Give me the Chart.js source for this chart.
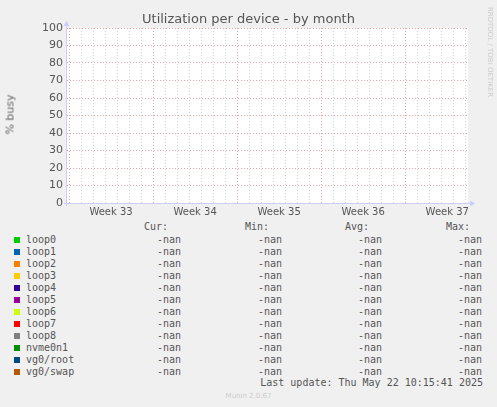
<!DOCTYPE html>
<html>
<head>
<meta charset="utf-8">
<script src="https://cdn.jsdelivr.net/npm/chart.js@4"></script>
<style>
  body { margin: 0; background: #f0f0f0; width: 497px; height: 407px; position: relative; overflow: hidden; font-family: "DejaVu Sans", sans-serif; color: #555; }
  #wrap { position: absolute; left: 0; top: 0; width: 497px; height: 220px; }
  .abs { position: absolute; white-space: pre; }
  .mono { font-family: "DejaVu Sans Mono", monospace; font-size: 10px; line-height: 12px; }
  .sw { position: absolute; width: 6px; height: 6px; }
</style>
</head>
<body>
<div id="wrap"><canvas id="chart"></canvas></div>
<div class="abs" style="left:0;width:497px;top:11px;text-align:center;font-size:13px;">Utilization per device - by month</div>
<div class="abs" style="left:-15px;top:108px;font-size:11px;transform:rotate(-90deg);width:50px;text-align:center;color:#666;">% busy</div>
<div class="abs" style="left:440px;top:48px;font-size:7px;color:#ccc;transform:rotate(90deg);width:100px;text-align:center;">RRDTOOL / TOBI OETIKER</div>
<div id="legend"></div>
<div class="abs" style="left:0;width:497px;top:392px;text-align:center;font-size:7px;color:#ccc;">Munin 2.0.67</div>
<script>
const devices = ['loop0', 'loop1', 'loop2', 'loop3', 'loop4', 'loop5', 'loop6', 'loop7', 'loop8', 'nvme0n1', 'vg0/root', 'vg0/swap'];
const deviceColors = ['#00cc00', '#0066b3', '#ff8000', '#ffcc00', '#330099', '#990099', '#ccff00', '#ff0000', '#808080', '#008f00', '#00487d', '#b35a00'];
const curValues = ['-nan', '-nan', '-nan', '-nan', '-nan', '-nan', '-nan', '-nan', '-nan', '-nan', '-nan', '-nan'];
const minValues = ['-nan', '-nan', '-nan', '-nan', '-nan', '-nan', '-nan', '-nan', '-nan', '-nan', '-nan', '-nan'];
const avgValues = ['-nan', '-nan', '-nan', '-nan', '-nan', '-nan', '-nan', '-nan', '-nan', '-nan', '-nan', '-nan'];
const maxValues = ['-nan', '-nan', '-nan', '-nan', '-nan', '-nan', '-nan', '-nan', '-nan', '-nan', '-nan', '-nan'];
const weekLabels = ['Week 33', 'Week 34', 'Week 35', 'Week 36', 'Week 37'];
const yMax = 100;
const lastUpdate = 'Last update: Thu May 22 10:15:41 2025';

// days across the plot, first week boundary offset
const spanDays = 33.4;
const firstWeek = 0.17;

const legend = document.getElementById('legend');
function put(text, right, y) {
    const d = document.createElement('div');
    d.className = 'abs mono';
    d.style.right = (497 - right) + 'px';
    d.style.top = y + 'px';
    d.textContent = text;
    legend.appendChild(d);
}
put('Cur:', 168, 221); put('Min:', 269, 221); put('Avg:', 369, 221); put('Max:', 470, 221);
devices.forEach((name, i) => {
    const y = 234 + i * 12;
    const sw = document.createElement('div');
    sw.className = 'sw';
    sw.style.left = '14px';
    sw.style.top = (y + 3) + 'px';
    sw.style.background = deviceColors[i];
    legend.appendChild(sw);
    const n = document.createElement('div');
    n.className = 'abs mono';
    n.style.left = '26px';
    n.style.top = y + 'px';
    n.textContent = name;
    legend.appendChild(n);
    put(curValues[i], 181, y); put(minValues[i], 282, y); put(avgValues[i], 382, y); put(maxValues[i], 482, y);
});
put(lastUpdate, 483, 377);

const whiteArea = {
    id: 'whiteArea',
    beforeDraw(chart) {
        const { ctx, chartArea: a } = chart;
        ctx.save();
        ctx.fillStyle = '#ffffff';
        ctx.fillRect(a.left, a.top, a.right - a.left, a.bottom - a.top);
        ctx.restore();
    },
    afterDraw(chart) {
        const { ctx, chartArea: a } = chart;
        ctx.save();
        ctx.strokeStyle = '#ccccff';
        ctx.fillStyle = '#ccccff';
        ctx.lineWidth = 1;
        ctx.beginPath();
        ctx.moveTo(a.left - 0.5, a.bottom + 3); ctx.lineTo(a.left - 0.5, a.top - 3);
        ctx.moveTo(a.left - 3, a.bottom + 0.5); ctx.lineTo(a.right + 3, a.bottom + 0.5);
        ctx.stroke();
        ctx.beginPath();
        ctx.moveTo(a.left - 3.5, a.top - 2); ctx.lineTo(a.left + 2.5, a.top - 2); ctx.lineTo(a.left - 0.5, a.top - 7); ctx.fill();
        ctx.beginPath();
        ctx.moveTo(a.right + 2, a.bottom - 2.5); ctx.lineTo(a.right + 2, a.bottom + 3.5); ctx.lineTo(a.right + 7, a.bottom + 0.5); ctx.fill();
        ctx.restore();
    }
};

new Chart(document.getElementById('chart'), {
    type: 'line',
    data: {
        datasets: devices.map((name, i) => ({
            label: name,
            data: [],
            borderColor: deviceColors[i],
            backgroundColor: deviceColors[i],
            pointRadius: 0
        }))
    },
    options: {
        responsive: true,
        maintainAspectRatio: false,
        animation: false,
        layout: { padding: { left: 0, top: 28, right: 29, bottom: 0 } },
        plugins: { legend: { display: false }, tooltip: { enabled: false } },
        scales: {
            x: {
                type: 'linear', min: 0, max: spanDays,
                // half-day ticks: whole days carry grid lines, mid-weeks carry labels
                afterBuildTicks: s => {
                    const t = [];
                    for (let k = 0; firstWeek + k * 0.5 < spanDays; k++) t.push({ value: firstWeek + k * 0.5 });
                    s.ticks = t;
                },
                afterFit: s => { s.height = 17; },
                ticks: { padding: 3, color: '#555', font: { family: 'DejaVu Sans', size: 10 }, maxRotation: 0, autoSkip: false,
                    callback: (v, k) => (k % 14 === 7 ? weekLabels[Math.floor(k / 14)] : '') },
                border: { display: false, dash: [1, 2] },
                grid: {
                    drawTicks: false,
                    color: c => (c.index % 2 === 1 ? 'rgba(0,0,0,0)' : c.index % 14 === 0 ? '#e8a0a0' : '#d4d4d4')
                }
            },
            y: {
                min: 0, max: yMax,
                afterFit: s => { s.width = 67; },
                ticks: { stepSize: 5, padding: 4, color: '#555', font: { family: 'DejaVu Sans', size: 11 },
                    callback: v => (v % 10 === 0 ? String(v) : '') },
                border: { display: false, dash: [1, 2] },
                grid: {
                    drawTicks: false,
                    color: c => (c.tick.value % 10 === 0 ? '#e8a0a0' : '#d4d4d4')
                }
            }
        }
    },
    plugins: [whiteArea]
});
</script>
</body>
</html>
